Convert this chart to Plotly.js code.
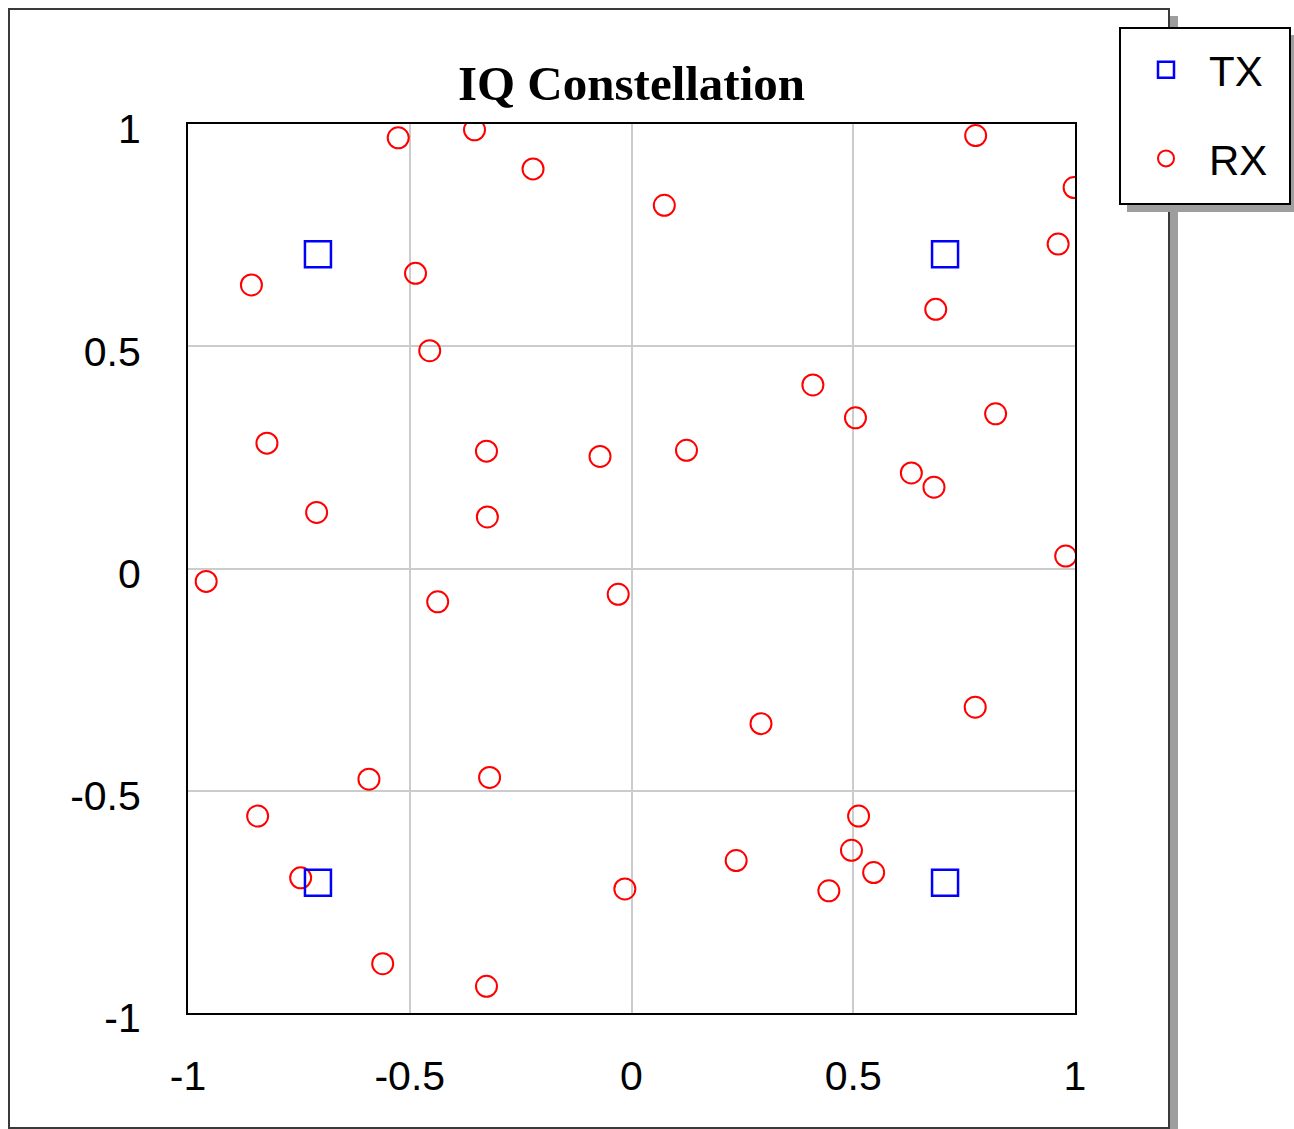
<!DOCTYPE html>
<html>
<head>
<meta charset="utf-8">
<script src="https://cdn.plot.ly/plotly-3.0.1.min.js"></script>
<style>
html,body{margin:0;padding:0;background:#fff;}
#chart{width:1294px;height:1129px;}
</style>
</head>
<body>
<div id="chart"></div>
<script>
// ---- data ----
const txI = [-0.707, 0.707, -0.707, 0.707];
const txQ = [0.707, 0.707, -0.707, -0.707];

const rxI = [-0.526, -0.354, -0.222, 0.074, 0.776, 0.998, 0.962, -0.857, -0.487, 0.686,
             -0.455, 0.409, 0.505, 0.821, -0.822, -0.327, -0.071, 0.124, 0.631, 0.682,
             -0.710, -0.325, -0.959, 0.979, -0.437, -0.030, 0.292, 0.775, -0.592, -0.320,
             -0.843, 0.512, 0.496, 0.236, 0.546, -0.746, -0.015, 0.445, -0.561, -0.327];
const rxQ = [0.969, 0.987, 0.899, 0.817, 0.974, 0.857, 0.730, 0.638, 0.664, 0.583,
             0.490, 0.413, 0.339, 0.348, 0.282, 0.264, 0.252, 0.266, 0.215, 0.183,
             0.126, 0.116, -0.029, 0.028, -0.075, -0.058, -0.349, -0.312, -0.474, -0.470,
             -0.557, -0.557, -0.634, -0.657, -0.684, -0.696, -0.721, -0.725, -0.889, -0.940];

const tickVals = [-1, -0.5, 0, 0.5, 1];
const tickText = ['-1', '-0.5', '0', '0.5', '1'];

// ---- layout geometry (pixels) ----
const W = 1294, H = 1129;
const M = {l: 188, r: 219, t: 124, b: 116};
const PW = W - M.l - M.r, PH = H - M.t - M.b;
const px = x => (x - M.l) / PW;
const py = y => (H - M.b - y) / PH;

function rect(x0, y0, x1, y1, fill, line, lw) {
  return {type: 'rect', xref: 'paper', yref: 'paper', layer: 'above',
          x0: px(x0), x1: px(x1), y0: py(y1), y1: py(y0),
          fillcolor: fill, line: {color: line, width: lw}};
}

const tickFont = {family: 'Liberation Sans, Arial, sans-serif', size: 41, color: '#000'};

const traces = [
  {
    name: 'RX', x: rxI, y: rxQ, type: 'scatter', mode: 'markers',
    marker: {symbol: 'circle-open', size: 21, color: '#ff0000', line: {width: 2, color: '#ff0000'}},
    legendrank: 2, legendgroup: 'rx', hoverinfo: 'x+y+name'
  },
  {
    name: 'TX', x: txI, y: txQ, type: 'scatter', mode: 'markers',
    marker: {symbol: 'square-open', size: 26, color: '#0000ff', line: {width: 2.5, color: '#0000ff'}},
    legendrank: 1, legendgroup: 'tx', hoverinfo: 'x+y+name'
  }
];

const layout = {
  width: W, height: H,
  margin: M,
  paper_bgcolor: '#fff', plot_bgcolor: '#fff',
  showlegend: true,
  title: {
    text: '<b>IQ Constellation</b>',
    font: {family: 'Liberation Serif, Times New Roman, serif', size: 49, color: '#000'},
    xref: 'paper', x: 0.5, xanchor: 'center',
    yref: 'container', y: 1 - 83 / H, yanchor: 'middle'
  },
  xaxis: {
    range: [-1, 1], tickvals: tickVals, ticktext: tickText,
    showgrid: true, gridcolor: '#cccccc', gridwidth: 2,
    zeroline: false, showline: true, mirror: true, linecolor: '#000', linewidth: 2,
    ticks: '', ticklabelstandoff: 26, tickfont: tickFont, fixedrange: true
  },
  yaxis: {
    range: [-1, 1], tickvals: tickVals, ticktext: tickText,
    showgrid: true, gridcolor: '#cccccc', gridwidth: 2,
    zeroline: false, showline: true, mirror: true, linecolor: '#000', linewidth: 2,
    ticks: '', ticklabelstandoff: 37, ticklabelshift: 5, tickfont: tickFont, fixedrange: true
  },
  legend: {
    xref: 'container', yref: 'container',
    x: 1123 / W, y: 1 - 36 / H, xanchor: 'left', yanchor: 'top',
    bgcolor: 'rgba(0,0,0,0)', borderwidth: 0,
    font: {family: 'Liberation Sans, Arial, sans-serif', size: 42, color: '#000'},
    traceorder: 'grouped', tracegroupgap: 31, itemwidth: 76
  },
  shapes: [
    rect(1170, 16, 1178, 1135, '#9e9e9e', 'rgba(0,0,0,0)', 0),
    rect(9, 9, 1169, 1128, 'rgba(0,0,0,0)', '#3a3a3a', 2),
    rect(1127, 35, 1298, 212, '#9e9e9e', 'rgba(0,0,0,0)', 0),
    rect(1120, 28, 1290, 204, '#ffffff', '#000000', 2)
  ]
};

Plotly.newPlot('chart', traces, layout, {displayModeBar: false, staticPlot: false});
</script>
</body>
</html>
